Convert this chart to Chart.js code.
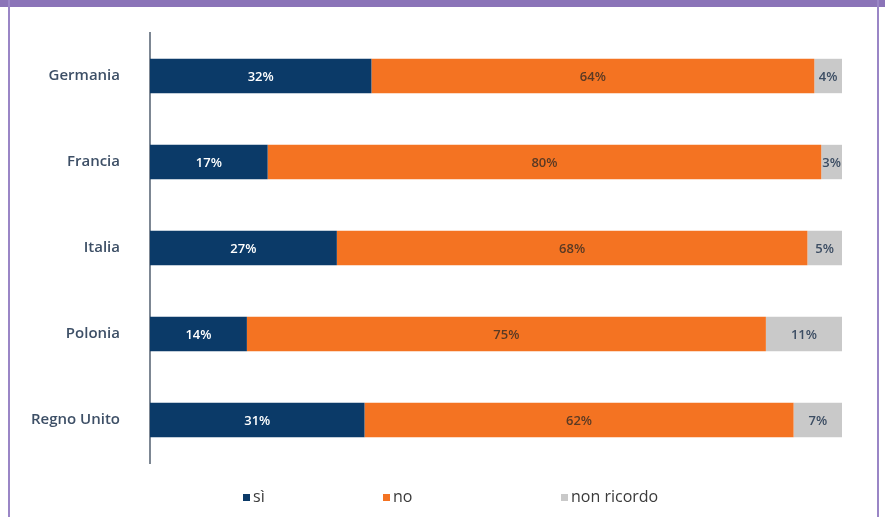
<!doctype html>
<html lang="it">
	<head>
		<meta charset="UTF-8" />
		<title>Sì / no / non ricordo</title>
		<script src="https://cdn.jsdelivr.net/npm/chart.js"></script>
		<style>
			html,
			body {
				margin: 0;
				padding: 0;
				background: #fff;
				font-family: 'Open Sans', sans-serif;
			}
			#wrap {
				position: relative;
				width: 885px;
				height: 517px;
				overflow: hidden;
			}
			#topBand {
				position: absolute;
				left: 0;
				top: 0;
				width: 885px;
				height: 7px;
				background: #8b74b8;
			}
			.side {
				position: absolute;
				top: 0;
				width: 2px;
				height: 517px;
				background: #9a86c6;
			}
			#chart {
				position: absolute;
				left: 0;
				top: 0;
			}
			#legend {
				position: absolute;
				left: 0;
				top: 485px;
				width: 885px;
				height: 24px;
				font-size: 16px;
				color: #3a3a3a;
			}
			.item {
				position: absolute;
				top: 0;
				white-space: nowrap;
				line-height: 22px;
			}
			.box {
				display: inline-block;
				width: 7px;
				height: 7px;
				margin-right: 3px;
				vertical-align: 1px;
			}
		</style>
	</head>
	<body>
		<div id="wrap">
			<canvas id="chart" width="885" height="517"></canvas>
			<div id="topBand"></div>
			<div class="side" style="left: 8px"></div>
			<div class="side" style="left: 877px"></div>
			<div id="legend"></div>
		</div>

		<script>
			// dati
			const paesi = ['Germania', 'Francia', 'Italia', 'Polonia', 'Regno Unito']
			const si = [32, 17, 27, 14, 31]
			const no = [64, 80, 68, 75, 62]
			const nonRicordo = [4, 3, 5, 11, 7]

			const nomiSerie = ['sì', 'no', 'non ricordo']
			const coloriSerie = ['#0b3a68', '#f47322', '#c9c9c9']
			const coloriTesto = ['#ffffff', '#5a3a24', '#3c4d63']
			const legendaX = [243, 383, 561]

			// etichette percentuali dentro le barre
			const etichette = {
				id: 'etichette',
				afterDatasetsDraw(chart) {
					const ctx = chart.ctx
					ctx.save()
					ctx.font = '600 13px "Open Sans", sans-serif'
					ctx.textAlign = 'center'
					ctx.textBaseline = 'middle'
					chart.data.datasets.forEach((ds, i) => {
						const meta = chart.getDatasetMeta(i)
						meta.data.forEach((bar, j) => {
							const p = bar.getProps(['x', 'y', 'base'], true)
							ctx.fillStyle = coloriTesto[i]
							ctx.fillText(ds.data[j] + '%', (p.x + p.base) / 2, p.y + 1)
						})
					})
					ctx.restore()
				}
			}

			const ctx = document.getElementById('chart').getContext('2d')
			const chart = new Chart(ctx, {
				type: 'bar',
				data: {
					labels: paesi,
					datasets: [si, no, nonRicordo].map((d, i) => ({
						label: nomiSerie[i],
						data: d,
						backgroundColor: coloriSerie[i],
						categoryPercentage: 0.8,
						barPercentage: 0.5
					}))
				},
				options: {
					indexAxis: 'y',
					responsive: false,
					animation: false,
					layout: { padding: { top: 33, bottom: 54, right: 43, left: 0 } },
					plugins: {
						legend: { display: false },
						tooltip: { enabled: false }
					},
					scales: {
						x: { stacked: true, min: 0, max: 100, display: false },
						y: {
							stacked: true,
							grid: { display: false },
							border: { display: true, color: '#7d8793', width: 2 },
							ticks: {
								color: '#3d4f66',
								padding: 22,
								font: { family: 'Open Sans', size: 15, weight: '600' }
							},
							afterFit(scale) {
								scale.width = 150
							}
						}
					}
				},
				plugins: [etichette]
			})

			// legenda costruita dai dataset
			const legend = document.getElementById('legend')
			chart.data.datasets.forEach((ds, i) => {
				const el = document.createElement('span')
				el.className = 'item'
				el.style.left = legendaX[i] + 'px'
				el.innerHTML =
					'<span class="box" style="background:' + ds.backgroundColor + '"></span>' + ds.label
				legend.appendChild(el)
			})
		</script>
	</body>
</html>
